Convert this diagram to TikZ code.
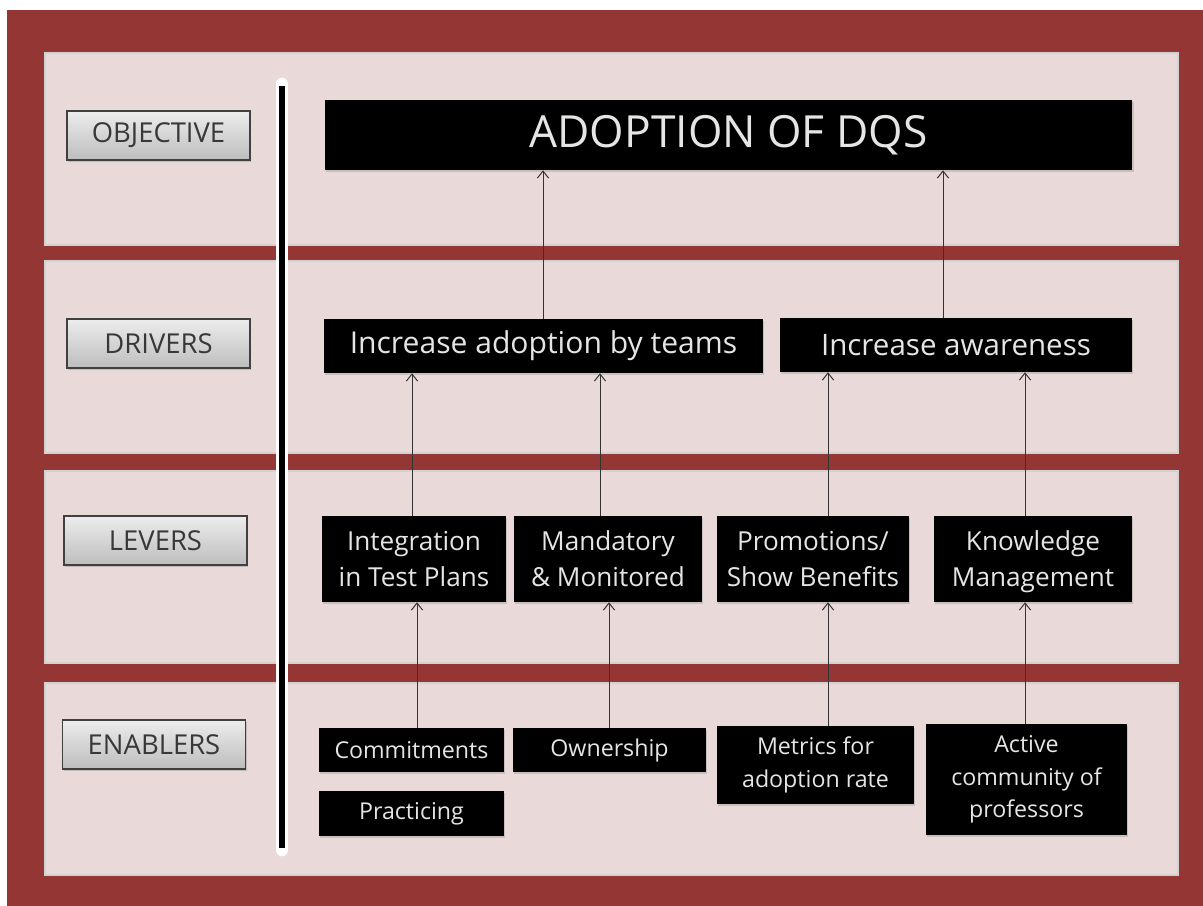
\documentclass[tikz,border=0pt]{standalone}
\usepackage{fontspec}
\setmainfont{Open Sans}
\usetikzlibrary{arrows.meta, shadows}
\usepackage{xcolor}
\definecolor{frame red}{HTML}{943634}
\definecolor{panel pink}{HTML}{E9D9D9}
\definecolor{panel line}{HTML}{D2D2D2}
\definecolor{label text}{HTML}{383838}

\begin{document}
\begin{tikzpicture}[x=0.025cm, y=-0.025cm, >={Straight Barb[length=5pt,width=8pt]}]
    \tikzstyle{panel}=[fill=panel pink, draw=panel line, line width=1pt]
    \tikzstyle{level}=[draw=black!75, line width=0.8pt, top color=black!7, bottom color=black!26, text=label text, minimum width=4.575cm, minimum height=1.225cm, inner sep=0pt, font=\fontsize{19.5}{22}\selectfont, drop shadow={opacity=0.35, shadow xshift=1pt, shadow yshift=-1.5pt}]
    \tikzstyle{block}=[fill=black, text=white!90!black, inner sep=0pt, align=center, drop shadow={opacity=0.3, shadow xshift=1pt, shadow yshift=-1.5pt}]
    \tikzstyle{arr}=[->, draw=black!80, line width=0.7pt]

    % frame and the four bands
    \useasboundingbox (0,0) rectangle (1203,906);
    \fill[frame red] (7,10) rectangle (1203,906);
    \path[panel] (45,53) rectangle (1178,245);
    \path[panel] (45,261) rectangle (1178,453);
    \path[panel] (45,471) rectangle (1178,663);
    \path[panel] (45,683) rectangle (1178,875);

    \draw[white, line width=9pt, line cap=round] (282,84) -- (282,850);
    \draw[black, line width=3.6pt] (282,86) -- (282,848);

    % band labels
    \node[level] (objective) at (158.5,135.5) {OBJECTIVE};
    \node[level] (drivers) at (158.5,343.5) {DRIVERS};
    \node[level] (levers) at (155.5,540.5) {LEVERS};
    \node[level] (enablers) at (154,744.5) {ENABLERS};

    % objective
    \node[block, minimum width=20.175cm, minimum height=1.75cm, font=\fontsize{31.5}{36}\selectfont] (adoption) at (728.5,135) {ADOPTION OF DQS};

    % drivers
    \node[block, minimum width=10.975cm, minimum height=1.35cm, font=\fontsize{21.4}{24}\selectfont] (teams) at (543.5,346) {Increase adoption by teams};
    \node[block, minimum width=8.8cm, minimum height=1.35cm, font=\fontsize{21}{24}\selectfont] (awareness) at (956,345) {Increase awareness};

    % levers
    \node[block, minimum width=4.6cm, minimum height=2.15cm, font=\fontsize{18.6}{25.5}\selectfont] (integration) at (414,559) {Integration\\in Test Plans};
    \node[block, minimum width=4.7cm, minimum height=2.15cm, font=\fontsize{18.6}{25.5}\selectfont] (mandatory) at (608,559) {Mandatory\\\& Monitored};
    \node[block, minimum width=4.8cm, minimum height=2.15cm, font=\fontsize{18.6}{25.5}\selectfont] (promotions) at (813,559) {Promotions/\\Show Benefits};
    \node[block, minimum width=4.95cm, minimum height=2.15cm, font=\fontsize{18.6}{25.5}\selectfont] (knowledge) at (1033,559) {\strut Knowledge\\Management};

    % enablers
    \node[block, minimum width=4.625cm, minimum height=1.1cm, font=\fontsize{16.5}{19}\selectfont] (commitments) at (411.5,750) {Commitments};
    \node[block, minimum width=4.825cm, minimum height=1.1cm, font=\fontsize{16.5}{19}\selectfont] (ownership) at (609.5,750) {Ownership};
    \node[block, minimum width=4.625cm, minimum height=1.125cm, font=\fontsize{16.5}{19}\selectfont] (practicing) at (411.5,813.5) {Practicing};
    \node[block, minimum width=4.925cm, minimum height=1.95cm, font=\fontsize{16.5}{23}\selectfont] (metrics) at (815.5,765) {Metrics for\\adoption rate};
    \node[block, minimum width=5.025cm, minimum height=2.775cm, font=\fontsize{16.5}{23}\selectfont] (community) at (1026.5,779.5) {Active\\community of\\professors};

    % arrow columns
    \coordinate (c1) at (543,0);
    \coordinate (c2) at (943,0);
    \coordinate (c3) at (412,0);
    \coordinate (c4) at (600,0);
    \coordinate (c5) at (828,0);
    \coordinate (c6) at (1025,0);
    \coordinate (c7) at (417,0);
    \coordinate (c8) at (609,0);

    \draw[arr] (teams.north -| c1) -- (adoption.south -| c1);
    \draw[arr] (awareness.north -| c2) -- (adoption.south -| c2);
    \draw[arr] (integration.north -| c3) -- (teams.south -| c3);
    \draw[arr] (mandatory.north -| c4) -- (teams.south -| c4);
    \draw[arr] (promotions.north -| c5) -- (awareness.south -| c5);
    \draw[arr] (knowledge.north -| c6) -- (awareness.south -| c6);
    \draw[arr] (commitments.north -| c7) -- (integration.south -| c7);
    \draw[arr] (ownership.north -| c8) -- (mandatory.south -| c8);
    \draw[arr] (metrics.north -| c5) -- (promotions.south -| c5);
    \draw[arr] (community.north -| c6) -- (knowledge.south -| c6);
\end{tikzpicture}
\end{document}
